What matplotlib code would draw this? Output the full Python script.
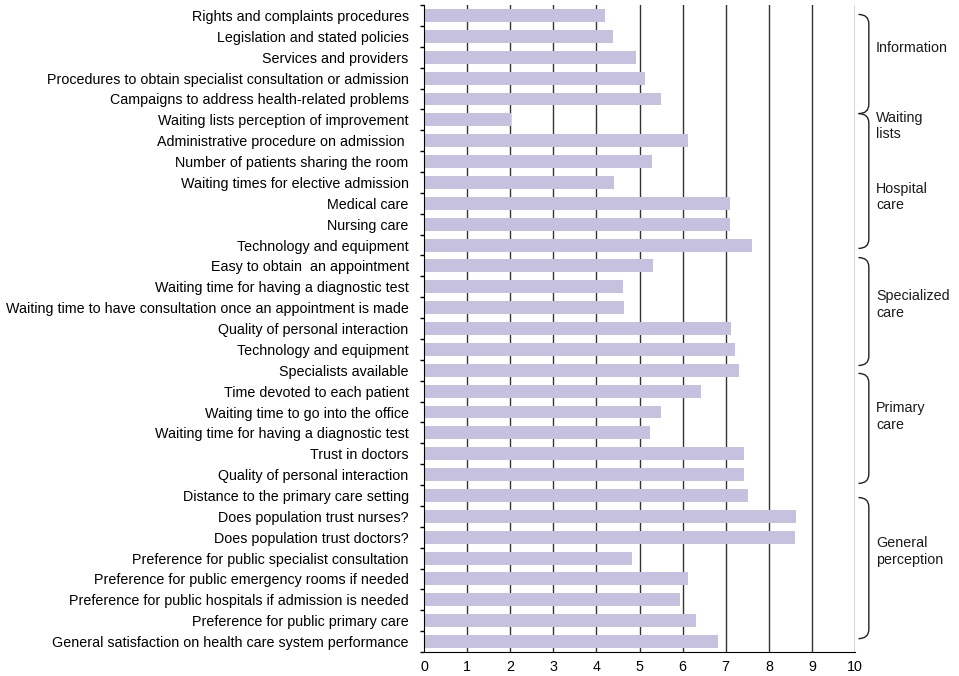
import matplotlib.pyplot as plt
from matplotlib.path import Path
from matplotlib.patches import PathPatch
import matplotlib.transforms as mtransforms

plt.rcParams['font.family'] = ['Liberation Sans', 'DejaVu Sans']
plt.rcParams['text.color'] = '#1a1a1a'

# Survey items (top to bottom) and mean scores (0-10)
items = [
    "Rights and complaints procedures",
    "Legislation and stated policies",
    "Services and providers",
    "Procedures to obtain specialist consultation or admission",
    "Campaigns to address health-related problems",
    "Waiting lists perception of improvement",
    "Administrative procedure on admission ",
    "Number of patients sharing the room",
    "Waiting times for elective admission",
    "Medical care",
    "Nursing care",
    "Technology and equipment",
    "Easy to obtain  an appointment",
    "Waiting time for having a diagnostic test",
    "Waiting time to have consultation once an appointment is made",
    "Quality of personal interaction",
    "Technology and equipment",
    "Specialists available",
    "Time devoted to each patient",
    "Waiting time to go into the office",
    "Waiting time for having a diagnostic test",
    "Trust in doctors",
    "Quality of personal interaction",
    "Distance to the primary care setting",
    "Does population trust nurses?",
    "Does population trust doctors?",
    "Preference for public specialist consultation",
    "Preference for public emergency rooms if needed",
    "Preference for public hospitals if admission is needed",
    "Preference for public primary care",
    "General satisfaction on health care system performance",
]
scores = [4.2, 4.38, 4.92, 5.13, 5.5, 2.03, 6.12, 5.3, 4.4, 7.1, 7.1, 7.6,
          5.31, 4.62, 4.64, 7.12, 7.22, 7.31, 6.43, 5.5, 5.24, 7.42, 7.42,
          7.52, 8.63, 8.61, 4.83, 6.12, 5.94, 6.31, 6.82]

# Groups shown with brackets on the right: (top row, bottom row)
group_spans = [(-0.05, 4.7), (4.7, 11.16), (11.6, 16.77), (17.15, 22.42), (23.1, 29.86)]
group_labels = ["Information", "Waiting\nlists", "Hospital\ncare", "Specialized\ncare",
                "Primary\ncare", "General\nperception"]
group_label_rows = [1.55, 5.3, 8.7, 13.85, 19.2, 25.7]

fig = plt.figure(figsize=(9.59, 6.76), dpi=100)
ax = fig.add_axes([0.4421, 0.0355, 0.4495, 0.957])

y = list(range(len(items)))
ax.barh(y, scores, height=0.62, color='#c5c1de', zorder=2)

ax.set_xlim(0, 10)
ax.set_ylim(len(items) - 0.5, -0.5)
ax.set_xticks(range(0, 11))
ax.set_yticks(y)
ax.set_yticklabels(items, fontsize=10.3)
ax.set_yticks([i - 0.5 for i in range(len(items) + 1)], minor=True)
ax.tick_params(axis='y', which='major', length=0, pad=11)
ax.tick_params(axis='y', which='minor', length=3, width=1, direction='out')
ax.tick_params(axis='x', length=0, labelsize=10.3, pad=6)

for v in range(1, 11):
    ax.axvline(v, color='#333333', linewidth=1.0, zorder=1)

ax.spines['top'].set_visible(False)
ax.spines['right'].set_visible(False)
ax.spines['left'].set_color('black')
ax.spines['bottom'].set_color('black')

# brackets at the right
trans = mtransforms.blended_transform_factory(ax.transAxes, ax.transData)
x0, x1, r = 1.008, 1.032, 0.45
for top, bot in group_spans:
    verts = [(x0, top), (x1, top), (x1, top + r), (x1, bot - r), (x1, bot), (x0, bot)]
    codes = [Path.MOVETO, Path.CURVE3, Path.CURVE3, Path.LINETO, Path.CURVE3, Path.CURVE3]
    ax.add_patch(PathPatch(Path(verts, codes), fill=False, edgecolor='#222222',
                           linewidth=1.0, transform=trans, clip_on=False))

for lab, row in zip(group_labels, group_label_rows):
    ax.text(1.0487, row, lab, transform=trans, fontsize=10.3, va='center', ha='left',
            linespacing=1.25)

fig.savefig('out.png', dpi=100)
